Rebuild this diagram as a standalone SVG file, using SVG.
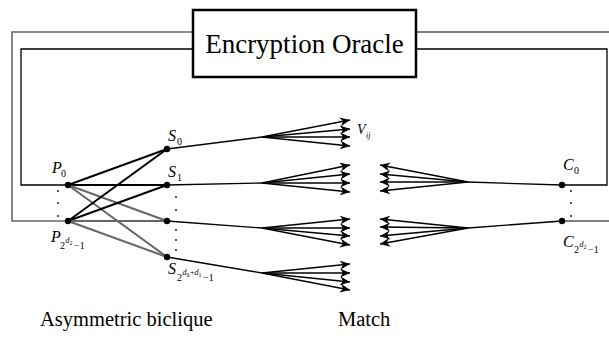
<svg xmlns="http://www.w3.org/2000/svg" width="609" height="338" viewBox="0 0 609 338">
<style>
text{font-family:"Liberation Serif","Times New Roman",serif;fill:#000}
.it{font-style:italic}
.fan{stroke:#000;stroke-width:1.3;fill:none;marker-end:url(#ah)}
.blk{stroke:#000;stroke-width:2;fill:none}
.gry{stroke:#666;stroke-width:2;fill:none}
.thin{stroke:#000;stroke-width:1.3;fill:none}
.dot{fill:#000}
.sm{fill:#000}
</style>
<defs>
<marker id="ah" markerUnits="userSpaceOnUse" markerWidth="11" markerHeight="9" refX="10" refY="4.5" orient="auto">
<path d="M0,0 L10,4.5 L0,9 L3,4.5 z" fill="#000"/>
</marker>
</defs>
<g id="connectors">
<path class="gry" d="M68,221 H12 V32 H193" style="stroke-width:1.6"/>
<path class="thin" d="M68,185 H21 V49 H193"/>
<path class="thin" d="M416,32 H612 V221 H562" style="stroke:#555;stroke-width:1.6"/>
<path class="thin" d="M416,49 H607 V185 H562"/>
<line class="blk" x1="68" y1="185" x2="167" y2="149"/>
<line class="blk" x1="68" y1="185" x2="167" y2="185"/>
<line class="gry" x1="68" y1="185" x2="167" y2="221"/>
<line class="gry" x1="68" y1="185" x2="167" y2="257"/>
<line class="blk" x1="68" y1="221" x2="167" y2="149"/>
<line class="blk" x1="68" y1="221" x2="167" y2="185"/>
<line class="gry" x1="68" y1="221" x2="167" y2="221"/>
<line class="gry" x1="68" y1="221" x2="167" y2="257"/>
<line class="thin" x1="167" y1="149" x2="262" y2="137"/>
<line class="thin" x1="167" y1="185" x2="262" y2="183"/>
<line class="thin" x1="167" y1="221" x2="262" y2="228"/>
<line class="thin" x1="167" y1="257" x2="262" y2="273"/>
<path class="fan" d="M262,137 L350,120"/><path class="fan" d="M262,137 L350,129"/><path class="fan" d="M262,137 L350,137"/><path class="fan" d="M262,137 L350,146"/>
<path class="fan" d="M262,183 L350,165"/><path class="fan" d="M262,183 L350,174"/><path class="fan" d="M262,183 L350,183"/><path class="fan" d="M262,183 L350,192"/>
<path class="fan" d="M262,228 L350,219"/><path class="fan" d="M262,228 L350,228"/><path class="fan" d="M262,228 L350,236"/><path class="fan" d="M262,228 L350,245"/>
<path class="fan" d="M262,273 L350,264"/><path class="fan" d="M262,273 L350,273"/><path class="fan" d="M262,273 L350,282"/><path class="fan" d="M262,273 L350,290"/>
<line class="thin" x1="562" y1="185" x2="468" y2="182"/>
<line class="thin" x1="562" y1="221" x2="468" y2="228"/>
<path class="fan" d="M468,182 L380,165"/><path class="fan" d="M468,182 L380,174"/><path class="fan" d="M468,182 L380,182"/><path class="fan" d="M468,182 L380,191"/>
<path class="fan" d="M468,228 L380,219"/><path class="fan" d="M468,228 L380,227"/><path class="fan" d="M468,228 L380,236"/><path class="fan" d="M468,228 L380,244"/>
</g>
<g id="oracle">
<rect x="193" y="10" width="223" height="67" fill="#fff" stroke="#000" stroke-width="2.5"/>
<text x="304.5" y="53" font-size="27" text-anchor="middle">Encryption Oracle</text>
</g>
<g id="P0">
<circle class="dot" cx="68" cy="185" r="3.2"/>
<text class="it" x="52" y="173" font-size="16">P</text><text x="61" y="177" font-size="10">0</text>
</g>
<g id="Pdots">
<circle class="sm" cx="58" cy="191" r="0.9"/><circle class="sm" cx="58" cy="203" r="0.9"/><circle class="sm" cx="58" cy="216" r="0.9"/>
</g>
<g id="P2">
<circle class="dot" cx="68" cy="221" r="3.2"/>
<text class="it" x="51" y="242" font-size="16">P</text><text x="60" y="249" font-size="10">2</text><text class="it" x="65.5" y="243" font-size="8">d</text><text x="69.5" y="245" font-size="6">2</text><text x="74" y="249" font-size="10">−1</text>
</g>
<g id="S0">
<circle class="dot" cx="167" cy="149" r="3.2"/>
<text class="it" x="168" y="141" font-size="16">S</text><text x="177" y="145" font-size="10">0</text>
</g>
<g id="S1">
<circle class="dot" cx="167" cy="185" r="3.2"/>
<text class="it" x="168" y="177" font-size="16">S</text><text x="177" y="181" font-size="10">1</text>
</g>
<g id="Sdots">
<circle class="sm" cx="176" cy="197" r="0.9"/><circle class="sm" cx="176" cy="210" r="0.9"/>
<circle class="sm" cx="176" cy="230" r="0.9"/><circle class="sm" cx="176" cy="240" r="0.9"/><circle class="sm" cx="176" cy="250" r="0.9"/>
</g>
<g id="S2">
<circle class="dot" cx="167" cy="221" r="3.2"/>
</g>
<g id="S3">
<circle class="dot" cx="167" cy="257" r="3.2"/>
<text class="it" x="168" y="274" font-size="16">S</text><text x="177" y="281" font-size="10">2</text><text class="it" x="182.5" y="275" font-size="8">d</text><text x="186.5" y="277" font-size="6">0</text><text x="190" y="275" font-size="8">+</text><text class="it" x="194.5" y="275" font-size="8">d</text><text x="198.5" y="277" font-size="6">1</text><text x="203" y="281" font-size="10">−1</text>
</g>
<g id="Vij">
<text class="it" x="357" y="134" font-size="14">V</text><text class="it" x="366" y="138" font-size="8">ij</text>
</g>
<g id="C0">
<circle class="dot" cx="562" cy="185" r="3.2"/>
<text class="it" x="563" y="170" font-size="16">C</text><text x="574" y="174" font-size="10">0</text>
</g>
<g id="Cdots">
<circle class="sm" cx="571" cy="191" r="0.9"/><circle class="sm" cx="571" cy="203" r="0.9"/><circle class="sm" cx="571" cy="216" r="0.9"/>
</g>
<g id="C2">
<circle class="dot" cx="562" cy="221" r="3.2"/>
<text class="it" x="563" y="247" font-size="16">C</text><text x="574" y="253" font-size="10">2</text><text class="it" x="579.5" y="247" font-size="8">d</text><text x="583.5" y="249" font-size="6">2</text><text x="588" y="253" font-size="10">−1</text>
</g>
<g id="labels">
<text x="40" y="326" font-size="20.5">Asymmetric biclique</text>
<text x="338" y="326" font-size="20.5">Match</text>
</g>
</svg>
